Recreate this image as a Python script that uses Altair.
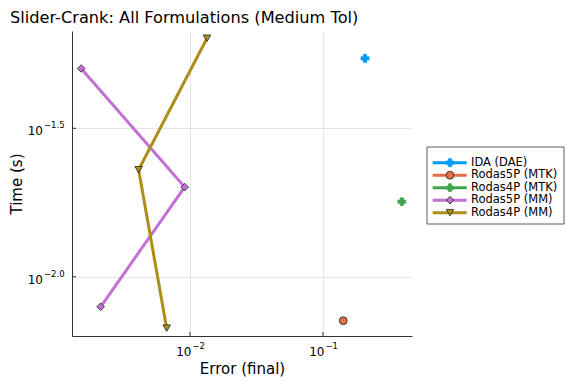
import altair as alt
import pandas as pd

FONT = "DejaVu Sans"

series = ["IDA (DAE)", "Rodas5P (MTK)", "Rodas4P (MTK)", "Rodas5P (MM)", "Rodas4P (MM)"]
colors = ["#009AFA", "#E36F47", "#3EA44E", "#C271D2", "#AC8E18"]
outlines = ["#009AFA", "#222222", "#3EA44E", "#222222", "#222222"]
shapes = ["cross", "circle", "cross", "diamond", "triangle-down"]
sizes = [64, 56, 64, 70, 90]

ida_err = [0.207]
ida_time = [0.0544]
r5mtk_err = [0.142]
r5mtk_time = [0.00711]
r4mtk_err = [0.391]
r4mtk_time = [0.0179]
r5mm_err = [0.00152, 0.00912, 0.00213]
r5mm_time = [0.0503, 0.02004, 0.00792]
r4mm_err = [0.01342, 0.00411, 0.00668]
r4mm_time = [0.0636, 0.02293, 0.00671]

x_ticks = [0.01, 0.1]
x_exp = ["\u22122", "\u22121"]
y_ticks = [0.0316228, 0.01]
y_exp = ["\u22121.5", "\u22122.0"]

x_domain = [0.001297, 0.4668]
y_domain = [0.006313, 0.06727]

W, H = 340, 305

rows = []
for name, xs, ys in [
    (series[0], ida_err, ida_time),
    (series[1], r5mtk_err, r5mtk_time),
    (series[2], r4mtk_err, r4mtk_time),
    (series[3], r5mm_err, r5mm_time),
    (series[4], r4mm_err, r4mm_time),
]:
    for i, (xv, yv) in enumerate(zip(xs, ys)):
        rows.append({"series": name, "err": xv, "time": yv, "idx": i})
df = pd.DataFrame(rows)

xscale = alt.Scale(type="log", domain=x_domain, nice=False)
yscale = alt.Scale(type="log", domain=y_domain, nice=False)

color_enc = alt.Color("series:N", scale=alt.Scale(domain=series, range=colors), legend=None)
fill_enc = alt.Fill("series:N", scale=alt.Scale(domain=series, range=colors), legend=None)
stroke_enc = alt.Stroke("series:N", scale=alt.Scale(domain=series, range=outlines), legend=None)
shape_enc = alt.Shape("series:N", scale=alt.Scale(domain=series, range=shapes), legend=None)
size_enc = alt.Size("series:N", scale=alt.Scale(domain=series, range=sizes), legend=None)

x_axis = alt.Axis(values=x_ticks, labels=False, ticks=False, grid=True,
                  gridColor="#000000", gridOpacity=0.1, gridWidth=1,
                  domainColor="#333333", domainWidth=1,
                  title="Error (final)", titleFont=FONT, titleFontSize=15,
                  titleFontWeight="normal", titleColor="#000000",
                  titleBaseline="alphabetic", titlePadding=37)
y_axis = alt.Axis(values=y_ticks, labels=False, ticks=False, grid=True,
                  gridColor="#000000", gridOpacity=0.1, gridWidth=1,
                  domainColor="#333333", domainWidth=1,
                  title="Time (s)", titleFont=FONT, titleFontSize=15,
                  titleFontWeight="normal", titleColor="#000000",
                  titleBaseline="alphabetic", titlePadding=51)

X = alt.X("err:Q", scale=xscale, axis=x_axis)
Y = alt.Y("time:Q", scale=yscale, axis=y_axis)

base = alt.Chart(df)
lines = base.mark_line(strokeWidth=3).encode(
    x=X, y=Y, color=color_enc, order=alt.Order("idx:Q"),
)
points = base.mark_point(filled=True, opacity=1, strokeWidth=0.8).encode(
    x=X, y=Y, shape=shape_enc, fill=fill_enc, stroke=stroke_enc, size=size_enc,
)

xlab = pd.DataFrame({"err": x_ticks, "exp": x_exp})
ylab = pd.DataFrame({"time": y_ticks, "exp": y_exp})

xbase = alt.Chart(xlab).mark_text(text="10", align="right", baseline="alphabetic",
                                  font=FONT, fontSize=12, dx=1.5, color="#000").encode(
    x=X, y=alt.value(H + 20))
xexp = alt.Chart(xlab).mark_text(align="left", baseline="alphabetic",
                                 font=FONT, fontSize=8.5, dx=2.5, color="#000").encode(
    x=X, y=alt.value(H + 13), text="exp:N")
ybase = alt.Chart(ylab).mark_text(text="10", align="right", baseline="alphabetic",
                                  font=FONT, fontSize=12, dy=7, color="#000").encode(
    x=alt.value(-29), y=Y)
yexp = alt.Chart(ylab).mark_text(align="left", baseline="alphabetic",
                                 font=FONT, fontSize=8.5, dy=0, color="#000").encode(
    x=alt.value(-28), y=Y, text="exp:N")
xt = alt.Chart(xlab).mark_rule(color="#333333", strokeWidth=1).encode(
    x=X, y=alt.value(H), y2=alt.value(H - 4))
yt = alt.Chart(ylab).mark_rule(color="#333333", strokeWidth=1).encode(
    x=alt.value(0), x2=alt.value(4), y=Y)

main = alt.layer(lines, points, xt, yt, xbase, xexp, ybase, yexp)

# legend
leg = pd.DataFrame({"series": series, "row": list(range(len(series)))})
ly = alt.Y("row:Q", scale=alt.Scale(domain=[0, len(series) - 1], range=[131.7, 181.7], nice=False, zero=False), axis=None)
box = alt.Chart(alt.Data(values=[{"a": 1}])).mark_rect(fill="white", stroke="#333333", strokeWidth=0.8).encode(
    x=alt.value(355), x2=alt.value(492), y=alt.value(116), y2=alt.value(193))
lrule = alt.Chart(leg).mark_rule(strokeWidth=3).encode(
    x=alt.value(360.7), x2=alt.value(394.7), y=ly, color=color_enc)
lpts = alt.Chart(leg).mark_point(filled=True, opacity=1, strokeWidth=0.8).encode(
    x=alt.value(378), y=ly, shape=shape_enc, fill=fill_enc, stroke=stroke_enc, size=size_enc)
ltxt = alt.Chart(leg).mark_text(align="left", baseline="middle", font=FONT, fontSize=11.5, color="#000").encode(
    x=alt.value(399), y=ly, text="series:N")
legend = alt.layer(box, lrule, lpts, ltxt)

chart = alt.layer(main, legend).resolve_scale(y="independent").properties(
    width=W, height=H,
    autosize=alt.AutoSizeParams(type="none"),
    padding={"left": 64, "top": 23, "right": 156, "bottom": 41},
    title=alt.TitleParams(text="Slider-Crank: All Formulations (Medium Tol)", anchor="start",
                          frame="group", font=FONT, fontSize=16.2, fontWeight="normal",
                          color="#000000", dx=-62, offset=5),
).configure_view(stroke=None)

chart.save("out.html", embed_options={"renderer": "svg", "actions": False})
